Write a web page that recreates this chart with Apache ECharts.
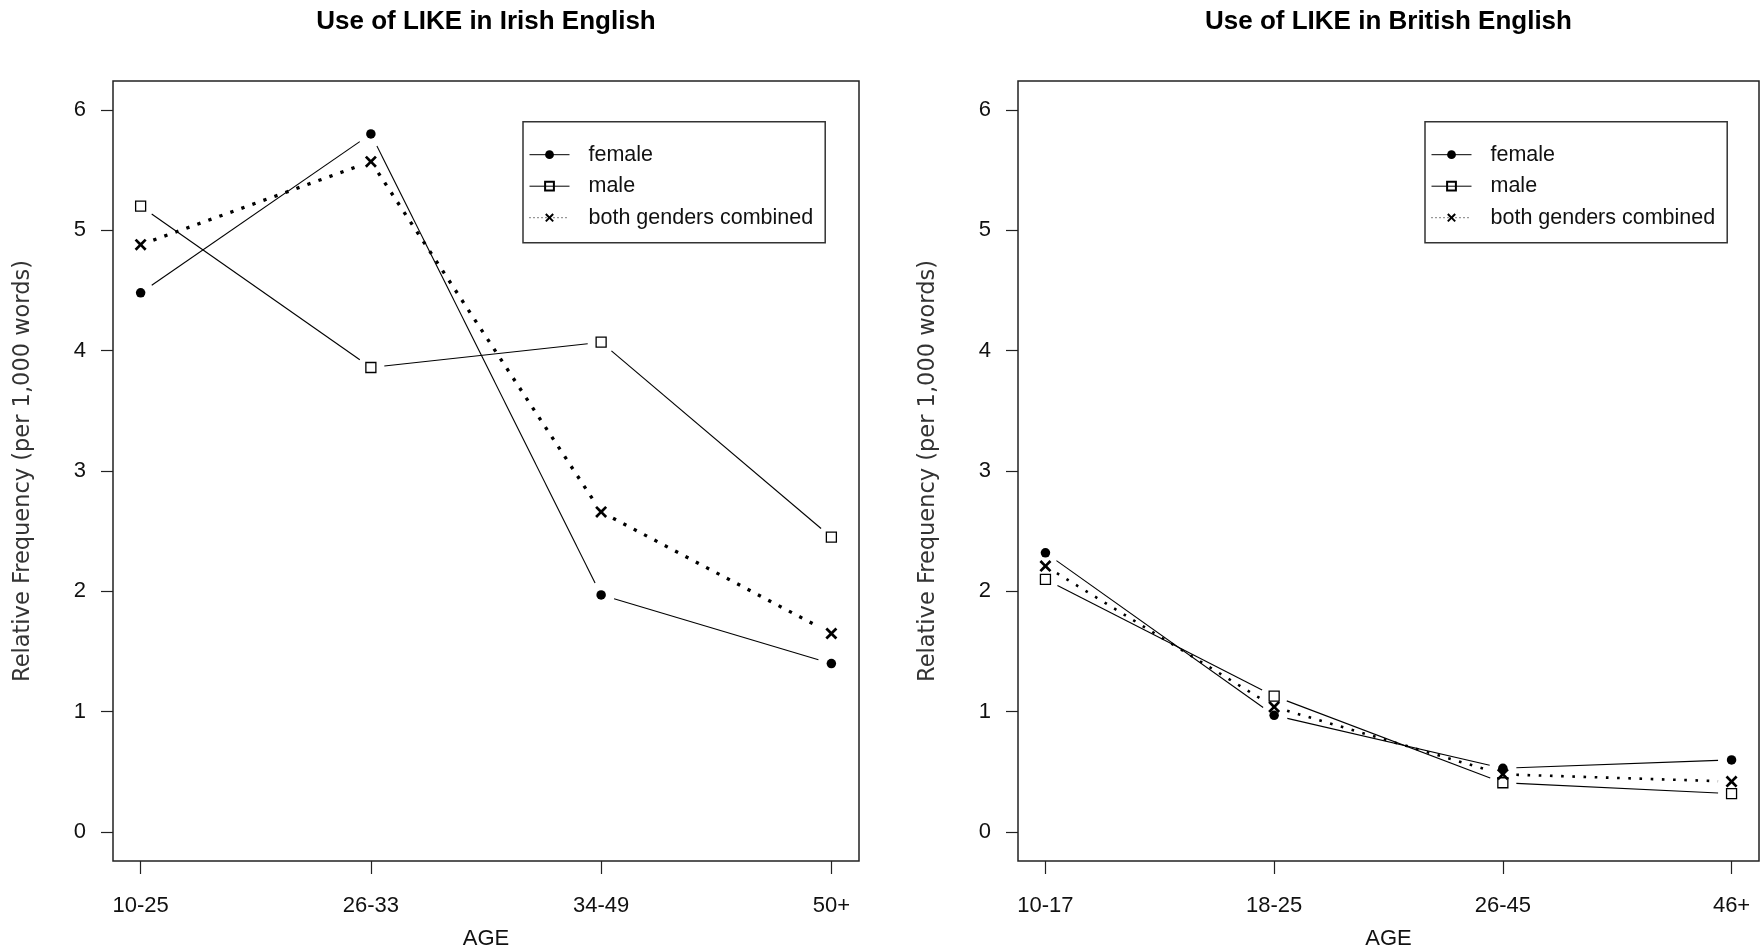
<!DOCTYPE html>
<html>
<head>
<meta charset="utf-8">
<script src="https://cdn.jsdelivr.net/npm/echarts@6/dist/echarts.min.js"></script>
<style>
  html, body { margin: 0; padding: 0; background: #fff; }
  #chart { width: 1761px; height: 951px; }
</style>
</head>
<body>
<div id="chart"></div>
<script>
// Relative frequency of LIKE (per 1,000 words) by speaker age group
const irishAges = ['10-25', '26-33', '34-49', '50+'];
const irishFemale = [4.48, 5.80, 1.97, 1.40];
const irishMale = [5.20, 3.86, 4.07, 2.45];
const irishBoth = [4.88, 5.57, 2.66, 1.65];

const britishAges = ['10-17', '18-25', '26-45', '46+'];
const britishFemale = [2.32, 0.97, 0.53, 0.60];
const britishMale = [2.10, 1.13, 0.41, 0.32];
const britishBoth = [2.21, 1.04, 0.48, 0.42];

const yTickValues = [0, 1, 2, 3, 4, 5, 6];
const panelTitles = ['Use of LIKE in Irish English', 'Use of LIKE in British English'];
const seriesNames = ['female', 'male', 'both genders combined'];
const yAxisTitle = 'Relative Frequency (per 1,000 words)';
const xAxisTitle = 'AGE';

const TEXT_FONT = "'Liberation Sans', Arial, sans-serif";
const LABEL_FONT = "'DejaVu Sans', sans-serif";
const INK = '#111';
const GAP = 13.5; // blank space left between a segment and its point markers

// filled "x" glyph
const CROSS_PATH = 'path://M0,1.6L1.6,0L5,3.4L8.4,0L10,1.6L6.6,5L10,8.4L8.4,10L5,6.6L1.6,10L0,8.4L3.4,5Z';

const markerStyles = {
  female: { symbol: 'circle', symbolSize: 9.5, itemStyle: { color: '#000' } },
  male: { symbol: 'rect', symbolSize: 10,
          itemStyle: { color: 'rgba(255,255,255,0)', borderColor: '#000', borderWidth: 1.3 } },
  'both genders combined': { symbol: CROSS_PATH, symbolSize: 12, itemStyle: { color: '#000' } }
};

const panels = [
  { ages: irishAges, values: [irishFemale, irishMale, irishBoth],
    grid: { left: 113, top: 81, width: 746, height: 780 },
    titleX: 486, legendX: 523, dotted: { width: 3.3, dash: [3.3, 8.4] } },
  { ages: britishAges, values: [britishFemale, britishMale, britishBoth],
    grid: { left: 1018, top: 81, width: 741, height: 780 },
    titleX: 1388.5, legendX: 1425, dotted: { width: 2.6, dash: [2.6, 8.6] } }
];

function pointsOf(vals) {
  return vals.map((v, i) => [i + 1, v]);
}

// Line segments between consecutive points, trimmed at both ends
function segmentSeries(vals, idx, width, dash) {
  const data = vals.slice(1).map((v, i) => [i + 1, vals[i], i + 2, v]);
  return {
    type: 'custom', xAxisIndex: idx, yAxisIndex: idx, silent: true, animation: false, z: 2,
    encode: { x: [0, 2], y: [1, 3] },
    renderItem(params, api) {
      const p1 = api.coord([api.value(0), api.value(1)]);
      const p2 = api.coord([api.value(2), api.value(3)]);
      const dx = p2[0] - p1[0], dy = p2[1] - p1[1];
      const len = Math.hypot(dx, dy);
      const g = GAP / len;
      return {
        type: 'line',
        shape: { x1: p1[0] + dx * g, y1: p1[1] + dy * g, x2: p2[0] - dx * g, y2: p2[1] - dy * g },
        style: { stroke: '#000', lineWidth: width, lineDash: dash, lineCap: 'butt' }
      };
    },
    data
  };
}

const option = {
  backgroundColor: '#fff',
  animation: false,
  title: panels.map((p, i) => ({
    text: panelTitles[i], left: p.titleX, top: 9, textAlign: 'center', padding: 0,
    textStyle: { fontFamily: TEXT_FONT, fontWeight: 'bold', fontSize: 26, color: '#000' }
  })),
  legend: panels.map(p => ({
    orient: 'vertical', left: p.legendX, top: 121.7,
    padding: [21, 12, 13, 6], itemGap: 7.5, itemWidth: 40, itemHeight: 11,
    borderColor: '#333', borderWidth: 1.5, selectedMode: false,
    lineStyle: { color: '#000', width: 1, opacity: 1 },
    textStyle: { fontFamily: TEXT_FONT, fontSize: 21.5, color: INK, lineHeight: 24, padding: [0, 0, 0, 14] },
    data: [
      { name: seriesNames[0], lineStyle: { type: 'solid' } },
      { name: seriesNames[1], lineStyle: { type: 'solid' } },
      { name: seriesNames[2], lineStyle: { type: [1, 3] } }
    ]
  })),
  grid: panels.map(p => Object.assign({ show: true, borderColor: '#222', borderWidth: 1.5,
                                        backgroundColor: 'transparent', containLabel: false,
                                        outerBoundsMode: 'none' }, p.grid)),
  xAxis: panels.map((p, i) => ({
    type: 'value', gridIndex: i, min: 0.88, max: 4.12,
    splitLine: { show: false }, axisLine: { show: false, onZero: false },
    axisTick: { show: true, customValues: p.ages.map((a, k) => k + 1), length: 13,
                lineStyle: { color: '#222', width: 1.2 } },
    axisLabel: { customValues: p.ages.map((a, k) => k + 1), margin: 34,
                 formatter: v => p.ages[Math.round(v) - 1],
                 fontFamily: TEXT_FONT, fontSize: 22, color: INK },
    name: xAxisTitle, nameLocation: 'middle', nameGap: 67,
    nameTextStyle: { fontFamily: TEXT_FONT, fontSize: 22, color: INK }
  })),
  yAxis: panels.map((p, i) => ({
    type: 'value', gridIndex: i, min: -0.24, max: 6.24,
    splitLine: { show: false }, axisLine: { show: false, onZero: false },
    axisTick: { show: true, customValues: yTickValues, length: 12,
                lineStyle: { color: '#222', width: 1.2 } },
    axisLabel: { customValues: yTickValues, margin: 27,
                 fontFamily: TEXT_FONT, fontSize: 22, color: INK },
    name: yAxisTitle, nameLocation: 'middle', nameGap: 78, nameRotate: 90,
    nameTextStyle: { fontFamily: LABEL_FONT, fontSize: 22.5, color: '#333' }
  })),
  series: []
};

panels.forEach((p, i) => {
  p.values.forEach((vals, k) => {
    const name = seriesNames[k];
    const dotted = k === 2;
    option.series.push(segmentSeries(vals, i,
      dotted ? p.dotted.width : 1.1, dotted ? p.dotted.dash : null));
    option.series.push(Object.assign({
      type: 'line', name, xAxisIndex: i, yAxisIndex: i, silent: true, z: 3 + k,
      showSymbol: true, lineStyle: { opacity: 0, color: '#000' },
      data: pointsOf(vals)
    }, markerStyles[name]));
  });
});

const chart = echarts.init(document.getElementById('chart'), null, { renderer: 'canvas' });
chart.setOption(option);
</script>
</body>
</html>
